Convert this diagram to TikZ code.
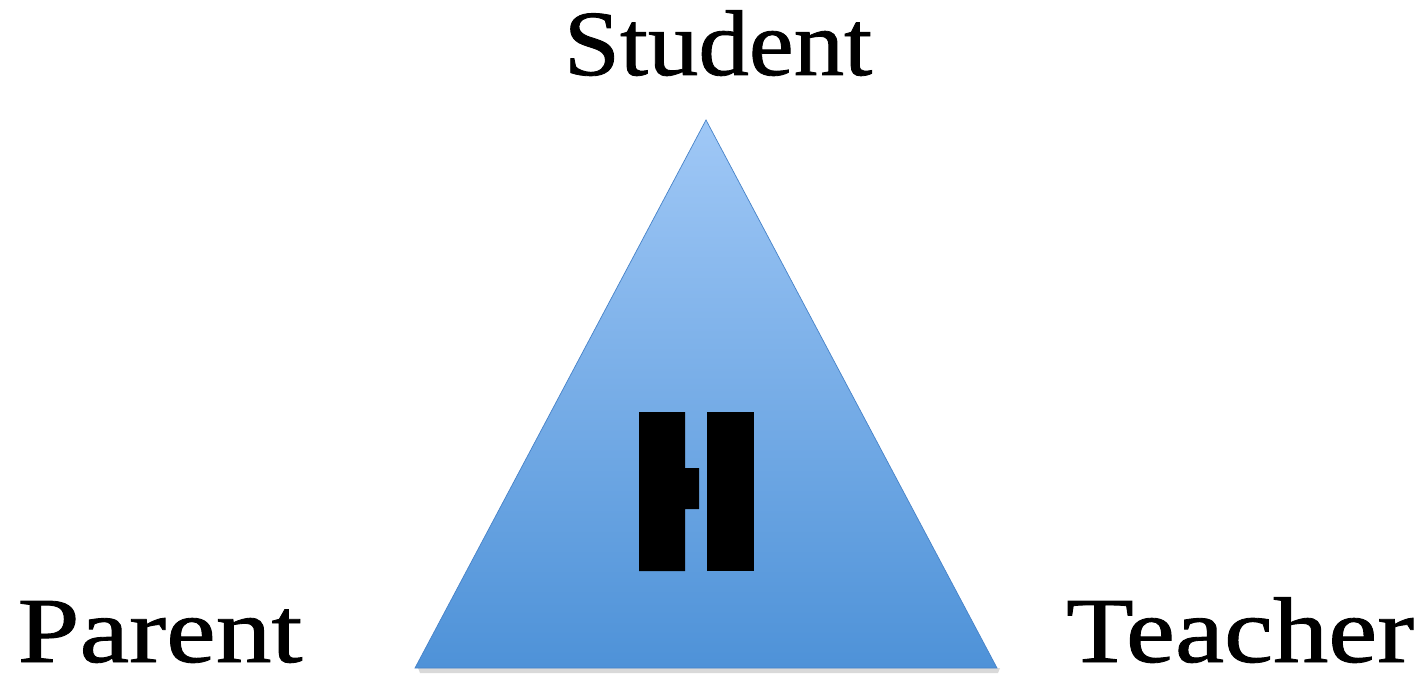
\documentclass[tikz,border=0pt]{standalone}
\usepackage{fontspec}
\setmainfont{Liberation Serif}
\newfontfamily\labelfont[FakeBold=0.9]{Liberation Serif}
\usetikzlibrary{calc}
\definecolor{triTop}{RGB}{160,200,246}
\definecolor{triBot}{RGB}{78,146,216}
\definecolor{triEdge}{RGB}{70,130,200}
\tikzset{
  % labels at the corners
  corner/.style={anchor=base, inner sep=0pt, text depth=0pt, xscale=1.14,
    transform shape, font=\labelfont\fontsize{53}{60}\selectfont},
}
\begin{document}
\begin{tikzpicture}[x=0.2mm,y=-0.2mm]
  \useasboundingbox (0,0) rectangle (1418,678);
  % soft shadow under the base
  \fill[black!15] (418,668) -- (1000,668) -- (998,673) -- (420,673) -- cycle;
  % the triangle
  \shade[top color=triTop, bottom color=triBot, draw=triEdge, thin]
    (706,120) -- (997,668) -- (415,668) -- cycle;
  % black mark in the middle
  \fill[black] (639,412) -- (685,412) -- (685,468) -- (699,468) -- (699,509)
    -- (685,509) -- (685,571) -- (639,571) -- cycle;
  \fill[black] (707,412) rectangle (754,571);
  % labels
  \node[corner, xscale=0.95] (student) at (718,75) {Student};
  \node[corner, xscale=1.05] (parent) at (160,662) {Parent};
  \node[corner, xscale=1.04] (teacher) at (1240,662) {Teacher};
\end{tikzpicture}
\end{document}
